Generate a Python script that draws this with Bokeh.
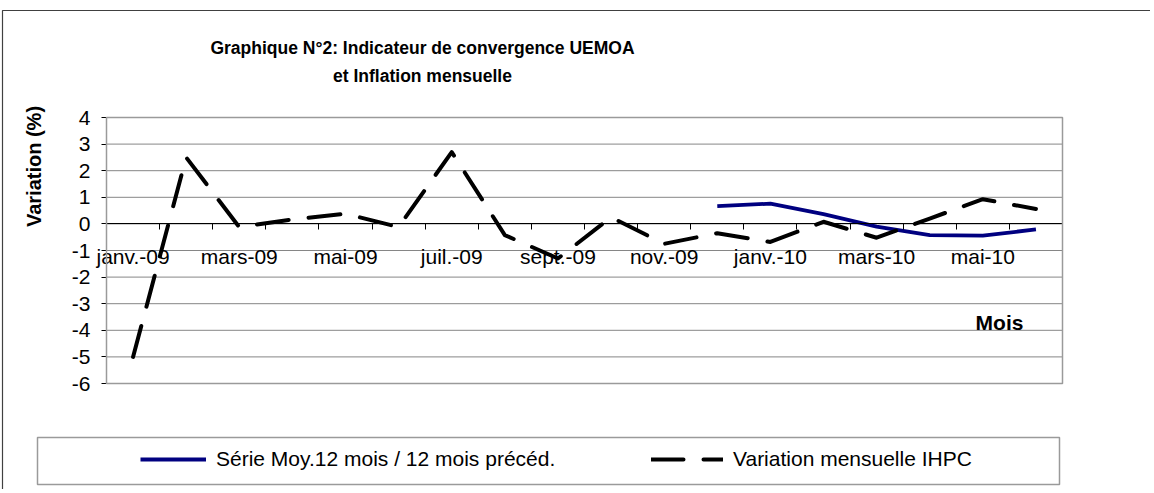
import math
from bokeh.plotting import figure
from bokeh.models import (LinearAxis, FixedTicker, Range1d, Label, Legend,
                          LegendItem, ColumnDataSource, BoxAnnotation)
from bokeh.embed import file_html
from bokeh.resources import INLINE

# ---------------- data ----------------
months = ["janv.-09", "févr.-09", "mars-09", "avr.-09", "mai-09", "juin-09",
          "juil.-09", "août-09", "sept.-09", "oct.-09", "nov.-09", "déc.-09",
          "janv.-10", "févr.-10", "mars-10", "avr.-10", "mai-10", "juin-10"]
ihpc = [-5.0, 2.5, -0.12, 0.17, 0.38, -0.12, 2.7, -0.42, -1.3, 0.25,
        -0.75, -0.35, -0.68, 0.08, -0.52, 0.2, 0.93, 0.56]
moy12 = [None, None, None, None, None, None, None, None, None, None, None,
         0.67, 0.76, 0.37, -0.1, -0.42, -0.44, -0.21]
y_ticks = [-6, -5, -4, -3, -2, -1, 0, 1, 2, 3, 4]

title_lines = ["Graphique N°2: Indicateur de convergence UEMOA",
               "et Inflation mensuelle"]
y_title = "Variation (%)"
x_title = "Mois"
legend_labels = ["Série Moy.12 mois / 12 mois précéd.", "Variation mensuelle IHPC"]

# ---------------- layout (pixels) ----------------
FONT = "Liberation Sans"
W, H = 1150, 489
PX_L, PX_R, PX_T, PX_B = 106, 1062, 117, 383     # plot area in pixels

n = len(months)
ymin, ymax = y_ticks[0], y_ticks[-1]
sx = (PX_R - PX_L) / n
sy = (PX_B - PX_T) / (ymax - ymin)


def X(px):
    return (px - PX_L) / sx


def Y(py):
    return ymax - (py - PX_T) / sy


xc = [i + 0.5 for i in range(n)]
src = ColumnDataSource(dict(
    x=xc,
    ihpc=ihpc,
    moy=[float("nan") if v is None else v for v in moy12],
))

p = figure(width=W, height=H, output_backend="svg", toolbar_location=None,
           x_range=Range1d(X(0), X(W)), y_range=Range1d(Y(H), Y(0)),
           x_axis_type=None, y_axis_type=None, min_border=0)
p.background_fill_color = "white"
p.border_fill_color = "white"
p.outline_line_color = None
p.xgrid.visible = False
p.ygrid.visible = False

# outer chart border (left/top visible in the reference)
p.add_layout(BoxAnnotation(left=X(2), right=X(W + 20), top=Y(10), bottom=Y(H + 20),
                           fill_color=None, line_color="#404040", line_alpha=1.0,
                           line_width=1.2))

# horizontal gridlines
p.segment(x0=[0] * len(y_ticks), x1=[n] * len(y_ticks), y0=y_ticks, y1=y_ticks,
          line_color="#868686", line_width=1)
# plot-area border
p.add_layout(BoxAnnotation(left=0, right=n, bottom=ymin, top=ymax,
                           fill_color=None, line_color="#9a9a9a", line_alpha=1.0,
                           line_width=1.5))

# y axis
ya = LinearAxis(fixed_location=0, bounds=(ymin, ymax),
                ticker=FixedTicker(ticks=y_ticks),
                major_label_overrides={t: str(t) for t in y_ticks},
                major_tick_out=5, major_tick_in=0, minor_tick_line_color=None,
                axis_line_color="black", major_tick_line_color="black",
                major_label_standoff=11, major_label_text_font=FONT,
                major_label_text_font_size="21px", major_label_text_color="black")
p.add_layout(ya, "left")

# category axis crossing at 0 (boundary ticks)
x_tick_axis = LinearAxis(fixed_location=0, bounds=(0, n),
                         ticker=FixedTicker(ticks=list(range(n + 1))),
                         major_tick_out=6, major_tick_in=0,
                         minor_tick_line_color=None,
                         axis_line_color="black", major_tick_line_color="black",
                         major_label_text_color=None)
p.add_layout(x_tick_axis, "below")

label_ticks = [i + 0.5 for i in range(0, n, 2)]
x_lab_axis = LinearAxis(fixed_location=0,
                        ticker=FixedTicker(ticks=label_ticks),
                        major_label_overrides={i + 0.5: months[i] for i in range(0, n, 2)},
                        major_tick_out=0, major_tick_in=0,
                        axis_line_color=None, major_tick_line_color=None,
                        minor_tick_line_color=None,
                        major_label_standoff=21,
                        major_label_text_font=FONT,
                        major_label_text_font_size="21px",
                        major_label_text_color="black")
p.add_layout(x_lab_axis, "below")

# series
r_moy = p.line("x", "moy", source=src, line_color="#000080", line_width=3.8,
               line_join="round")
r_ihpc = p.line("x", "ihpc", source=src, line_color="black", line_width=4,
                line_dash="32 20", line_cap="round", line_join="round")


def add_text(text, px, py, size, bold=True, angle=0.0):
    p.add_layout(Label(x=px, y=H - py, x_units="screen", y_units="screen",
                       text=text, angle=angle, text_font=FONT,
                       text_font_size=size,
                       text_font_style="bold" if bold else "normal",
                       text_color="black",
                       text_align="center", text_baseline="middle"))


add_text(title_lines[0], 422, 47, "17.5px")
add_text(title_lines[1], 422, 75, "17.5px")
add_text(y_title, 33, 166, "20px", angle=math.pi / 2)
add_text(x_title, 999, 322, "21px")

# legend box + two legend entries
p.add_layout(BoxAnnotation(left=X(37), right=X(1059), top=Y(437), bottom=Y(484),
                           fill_color=None, line_color="#9a9a9a", line_alpha=1.0,
                           line_width=1.5))
common = dict(padding=0, spacing=0, margin=0, border_line_color=None,
              background_fill_alpha=0, glyph_height=20, label_height=20,
              label_standoff=10, label_text_font=FONT,
              label_text_font_size="21px", label_text_color="black")
leg1 = Legend(items=[LegendItem(label=legend_labels[0], renderers=[r_moy])],
              location=(140, H - 471), glyph_width=66, **common)
leg2 = Legend(items=[LegendItem(label=legend_labels[1], renderers=[r_ihpc])],
              location=(651, H - 471), glyph_width=72, **common)
p.add_layout(leg1)
p.add_layout(leg2)

open("out.html", "w").write(file_html(p, INLINE))
